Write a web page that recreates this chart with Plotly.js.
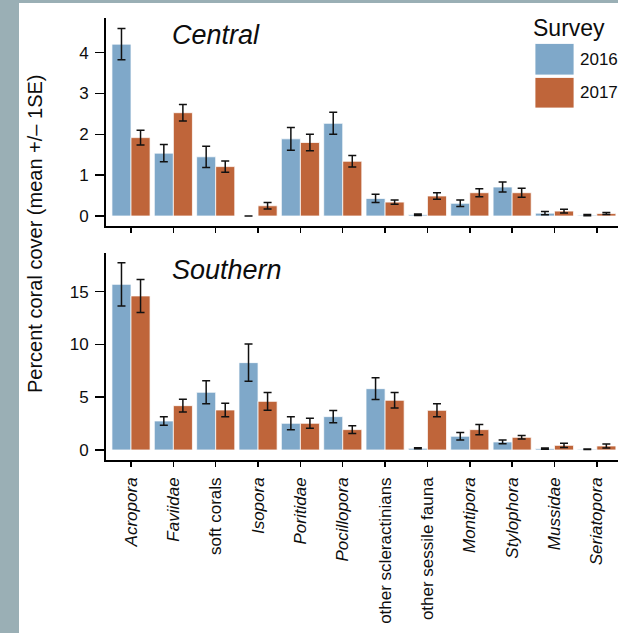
<!DOCTYPE html>
<html>
<head>
<meta charset="utf-8">
<script src="https://cdn.plot.ly/plotly-3.0.1.min.js"></script>
<style>html,body{margin:0;padding:0;background:#fff;}#chart{width:618px;height:633px;}</style>
</head>
<body>
<div id="chart"></div>
<script>
const categories = ['Acropora','Faviidae','soft corals','Isopora','Poritidae','Pocillopora',
  'other scleractinians','other sessile fauna','Montipora','Stylophora','Mussidae','Seriatopora'];
const nonTaxonGroups = ['soft corals','other scleractinians','other sessile fauna'];
const surveys = ['2016','2017'];
const regions = ['Central','Southern'];

const central2016   = [4.21,1.54,1.45,0.00,1.89,2.27,0.43,0.03,0.31,0.71,0.07,0.02];
const central2016se = [0.38,0.21,0.26,0.00,0.28,0.27,0.10,0.02,0.08,0.12,0.04,0.015];
const central2017   = [1.92,2.53,1.21,0.25,1.80,1.34,0.34,0.49,0.57,0.57,0.12,0.06];
const central2017se = [0.18,0.20,0.14,0.08,0.20,0.14,0.05,0.08,0.10,0.11,0.045,0.025];

const southern2016   = [15.7,2.75,5.47,8.28,2.53,3.16,5.81,0.16,1.30,0.76,0.13,0.07];
const southern2016se = [2.05,0.41,1.09,1.76,0.62,0.59,1.03,0.05,0.36,0.18,0.05,0.03];
const southern2017   = [14.6,4.20,3.79,4.61,2.53,1.93,4.71,3.76,1.93,1.20,0.44,0.38];
const southern2017se = [1.57,0.60,0.63,0.84,0.47,0.36,0.73,0.62,0.49,0.17,0.20,0.19];

const yTitle = 'Percent coral cover (mean +/\u2013 1SE)';
const legendTitle = 'Survey';

const W = 618, H = 633;
const px = v => v / W;
const py = v => 1 - v / H;

const BLUE = '#7fa8c9', ORANGE = '#bf653a';
const FONT = 'Liberation Sans, Arial, Helvetica, sans-serif';
const INK = '#0d0d0d';

function barTrace(y, se, color, name, xa, ya) {
  return {
    type: 'bar', x: categories, y: y, name: name, xaxis: xa, yaxis: ya,
    marker: {color: color, line: {color: 'rgba(255,255,255,0.75)', width: 1}},
    error_y: {type: 'data', array: se, visible: true, color: '#111', thickness: 1.5, width: 4},
    showlegend: false, hoverinfo: 'x+y'
  };
}

const data = [
  barTrace(central2016, central2016se, BLUE, surveys[0], 'x', 'y'),
  barTrace(central2017, central2017se, ORANGE, surveys[1], 'x', 'y'),
  barTrace(southern2016, southern2016se, BLUE, surveys[0], 'x2', 'y2'),
  barTrace(southern2017, southern2017se, ORANGE, surveys[1], 'x2', 'y2')
];

const tickText = categories.map(c => nonTaxonGroups.includes(c) ? c : '<i>' + c + '</i>');

const xDomain = [px(105.6), 1];
const axisCommon = {
  showline: true, linecolor: '#000', linewidth: 1.6, showgrid: false, zeroline: false,
  ticks: 'outside', tickcolor: '#000', tickwidth: 1.5, fixedrange: true
};

const layout = {
  width: W, height: H,
  margin: {l: 0, r: 0, t: 0, b: 0, pad: 0},
  paper_bgcolor: '#ffffff', plot_bgcolor: 'rgba(0,0,0,0)',
  font: {family: FONT, color: INK},
  barmode: 'group', bargap: 0.1, bargroupgap: 0,
  xaxis: Object.assign({}, axisCommon, {
    domain: xDomain, anchor: 'y', type: 'category', range: [-0.6, 11.5],
    ticklen: 5, showticklabels: false
  }),
  yaxis: Object.assign({}, axisCommon, {
    domain: [py(226), py(18)], anchor: 'x', range: [-0.245, 4.85],
    tickvals: [0,1,2,3,4], ticklen: 9, ticklabelstandoff: 3,
    tickfont: {size: 17, family: FONT, color: INK}
  }),
  xaxis2: Object.assign({}, axisCommon, {
    domain: xDomain, anchor: 'y2', type: 'category', range: [-0.6, 11.5],
    ticklen: 5, tickvals: categories, ticktext: tickText, tickangle: -90,
    ticklabelstandoff: 4,
    tickfont: {size: 17, family: FONT, color: INK}
  }),
  yaxis2: Object.assign({}, axisCommon, {
    domain: [py(460), py(252.7)], anchor: 'x2', range: [-0.95, 18.7],
    tickvals: [0,5,10,15], ticklen: 9, ticklabelstandoff: 3,
    tickfont: {size: 17, family: FONT, color: INK}
  }),
  shapes: [
    {type: 'rect', xref: 'paper', yref: 'paper', x0: 0, x1: px(19), y0: 0, y1: 1,
     fillcolor: '#9aafb5', line: {width: 0}, layer: 'below'},
    {type: 'rect', xref: 'paper', yref: 'paper', x0: 0, x1: 1, y0: py(3), y1: 1,
     fillcolor: '#9aafb5', line: {width: 0}, layer: 'below'},
    {type: 'rect', xref: 'paper', yref: 'paper', x0: px(535), x1: px(574), y0: py(75), y1: py(43.5),
     fillcolor: BLUE, line: {color: 'rgba(255,255,255,0.8)', width: 1}},
    {type: 'rect', xref: 'paper', yref: 'paper', x0: px(535), x1: px(574), y0: py(108), y1: py(77.5),
     fillcolor: ORANGE, line: {color: 'rgba(255,255,255,0.8)', width: 1}}
  ],
  annotations: [
    {text: '<i>' + regions[0] + '</i>', xref: 'paper', yref: 'paper', x: px(170), y: py(35),
     xanchor: 'left', yanchor: 'middle', showarrow: false, font: {size: 27, family: FONT, color: INK}},
    {text: '<i>' + regions[1] + '</i>', xref: 'paper', yref: 'paper', x: px(170), y: py(270),
     xanchor: 'left', yanchor: 'middle', showarrow: false, font: {size: 27, family: FONT, color: INK}},
    {text: yTitle, xref: 'paper', yref: 'paper', x: px(35), y: py(234), textangle: -90,
     xanchor: 'center', yanchor: 'middle', showarrow: false, font: {size: 20, family: FONT, color: INK}},
    {text: legendTitle, xref: 'paper', yref: 'paper', x: px(531), y: py(28),
     xanchor: 'left', yanchor: 'middle', showarrow: false, font: {size: 23, family: FONT, color: INK}},
    {text: surveys[0], xref: 'paper', yref: 'paper', x: px(578), y: py(60),
     xanchor: 'left', yanchor: 'middle', showarrow: false, font: {size: 17, family: FONT, color: INK}},
    {text: surveys[1], xref: 'paper', yref: 'paper', x: px(578), y: py(93),
     xanchor: 'left', yanchor: 'middle', showarrow: false, font: {size: 17, family: FONT, color: INK}}
  ]
};

Plotly.newPlot('chart', data, layout, {displayModeBar: false, staticPlot: true});
</script>
</body>
</html>
